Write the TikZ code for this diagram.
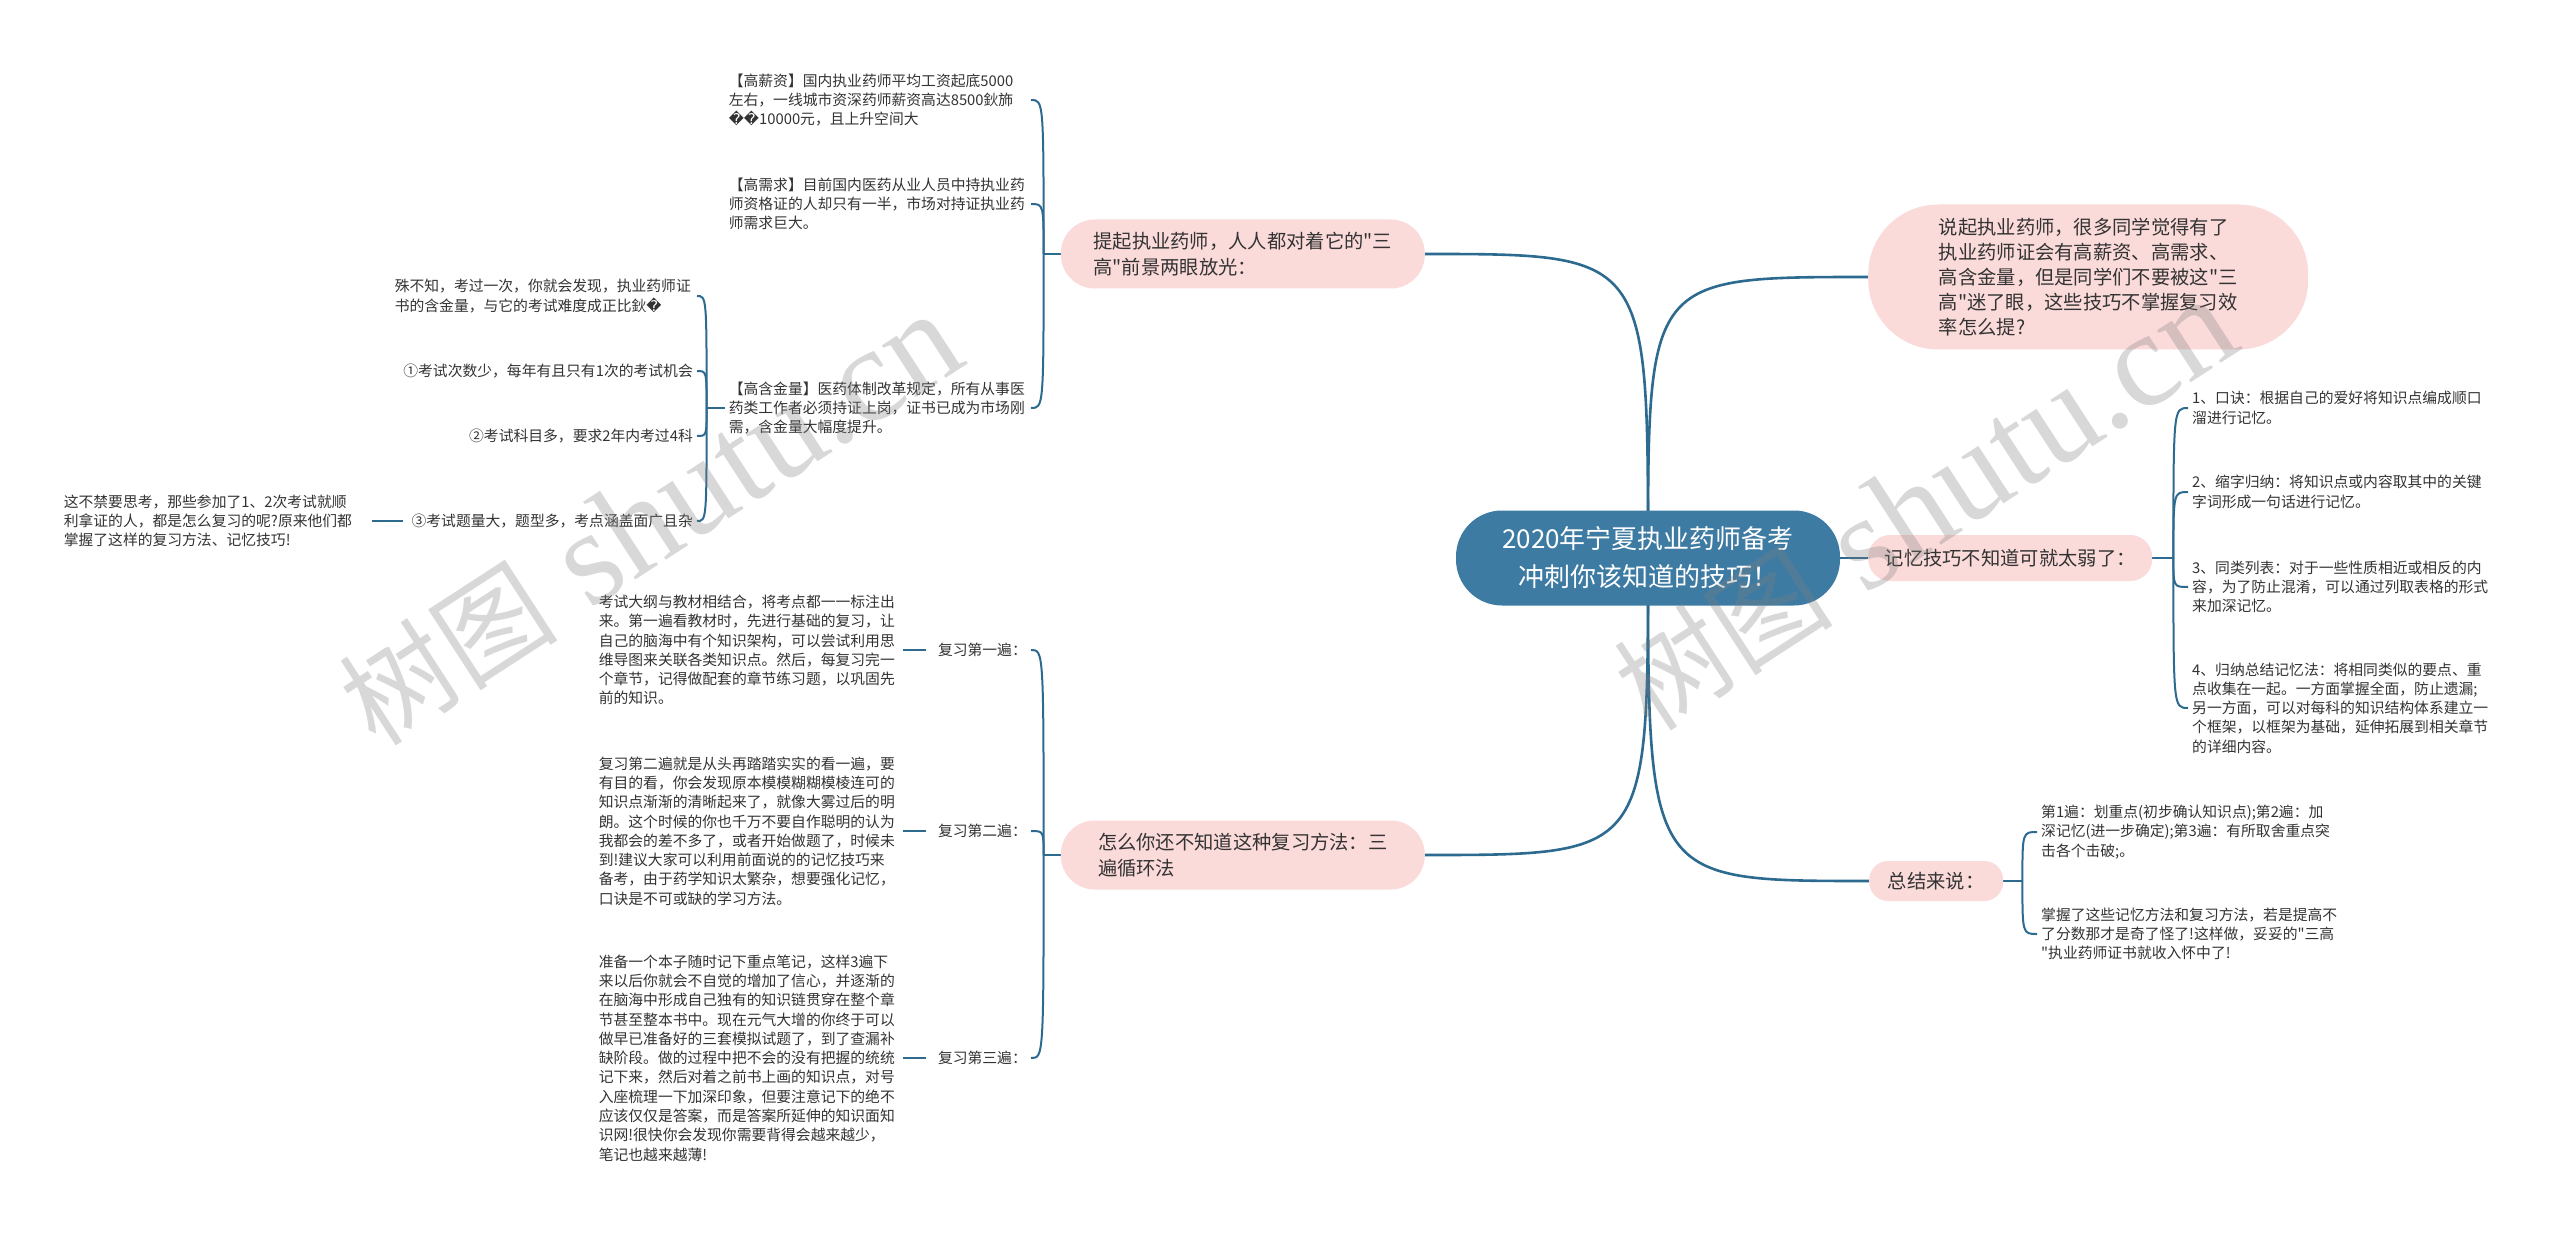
\documentclass[tikz,border=0pt]{standalone}
\usepackage{fontspec}
\setmainfont{Noto Sans CJK SC}[Ligatures=TeXOff]
\newfontfamily\dv{DejaVu Sans}
\newfontfamily\wmserif{Liberation Serif}
\newfontfamily\wmcjk{Noto Sans CJK SC}
\definecolor{rootblue}{HTML}{3E7BA3}
\definecolor{pinkbox}{HTML}{FBDADA}
\definecolor{linec}{HTML}{2D6A8F}
\definecolor{txt}{HTML}{333333}
\pgfdeclarelayer{bg}
\pgfsetlayers{bg,main}
\newcommand{\rc}{{\dv ^^^^fffd}}
\begin{document}
\begin{tikzpicture}[x=1pt,y=-1pt,
  rootnode/.style={rectangle, rounded corners=46pt, fill=rootblue, text=white, font=\fontsize{26}{38}\selectfont, align=center, inner sep=0pt, minimum width=384pt, minimum height=95pt},
  branch/.style={rectangle, fill=pinkbox, text=txt, font=\fontsize{19.3}{26}\selectfont, align=left, inner sep=0pt},
  leaf/.style={text=txt, font=\fontsize{14.8}{19.3}\selectfont, align=left, inner xsep=4pt, inner ysep=2pt},
  wide/.style={leaf, text width=298pt},
  conn/.style={draw=linec, line width=2pt},
  mainconn/.style={draw=linec, line width=2.6pt},
  wm/.style={text=gray, opacity=0.3, font=\wmserif\fontsize{135}{135}\selectfont, inner sep=0pt}
]
\useasboundingbox (0,0) rectangle (2560,1233);

% root and branches
\node[rootnode] (root) at (1648,558) {2020年宁夏执业药师备考\\冲刺你该知道的技巧！};
\node[branch, anchor=west, minimum width=440pt, minimum height=145pt, rounded corners=70pt, font=\fontsize{19.3}{25}\selectfont] (r1) at (1868,277) {说起执业药师，很多同学觉得有了\\执业药师证会有高薪资、高需求、\\高含金量，但是同学们不要被这"三\\高"迷了眼，这些技巧不掌握复习效\\率怎么提?};
\node[branch, anchor=west, minimum width=284pt, minimum height=46pt, rounded corners=22pt] (r2) at (1868,558) {记忆技巧不知道可就太弱了：};
\node[branch, anchor=west, minimum width=134pt, minimum height=40pt, rounded corners=19pt] (r3) at (1869,881) {总结来说：};
\node[branch, anchor=east, minimum width=364pt, minimum height=69pt, rounded corners=34pt] (l1) at (1425,254) {提起执业药师，人人都对着它的"三\\高"前景两眼放光：};
\node[branch, anchor=east, minimum width=364pt, minimum height=69pt, rounded corners=34pt] (l2) at (1425,855) {怎么你还不知道这种复习方法：三\\遍循环法};

% left branch 1 leaves
\node[wide, anchor=east] (a1) at (1031,100) {【高薪资】国内执业药师平均工资起底5000\\左右，一线城市资深药师薪资高达8500鈥斾\\\rc\rc10000元，且上升空间大};
\node[wide, anchor=east] (a2) at (1031,204) {【高需求】目前国内医药从业人员中持执业药\\师资格证的人却只有一半，市场对持证执业药\\师需求巨大。};
\node[wide, anchor=east] (a3) at (1031,408) {【高含金量】医药体制改革规定，所有从事医\\药类工作者必须持证上岗，证书已成为市场刚\\需，含金量大幅度提升。};
\node[wide, anchor=east] (b1) at (697,296) {殊不知，考过一次，你就会发现，执业药师证\\书的含金量，与它的考试难度成正比鈥\rc};
\node[leaf, anchor=east] (b2) at (697,371) {①考试次数少，每年有且只有1次的考试机会};
\node[leaf, anchor=east] (b3) at (697,436) {②考试科目多，要求2年内考过4科};
\node[leaf, anchor=east] (b4) at (697,521) {③考试题量大，题型多，考点涵盖面广且杂};
\node[wide, anchor=east] (c1) at (366,521) {这不禁要思考，那些参加了1、2次考试就顺\\利拿证的人，都是怎么复习的呢?原来他们都\\掌握了这样的复习方法、记忆技巧!};

% left branch 2 leaves
\node[leaf, anchor=east] (d1) at (1031,650) {复习第一遍：};
\node[leaf, anchor=east] (d2) at (1031,831) {复习第二遍：};
\node[leaf, anchor=east] (d3) at (1031,1058) {复习第三遍：};
\node[wide, anchor=east] (e1) at (901,650) {考试大纲与教材相结合，将考点都一一标注出\\来。第一遍看教材时，先进行基础的复习，让\\自己的脑海中有个知识架构，可以尝试利用思\\维导图来关联各类知识点。然后，每复习完一\\个章节，记得做配套的章节练习题，以巩固先\\前的知识。};
\node[wide, anchor=east] (e2) at (901,831) {复习第二遍就是从头再踏踏实实的看一遍，要\\有目的看，你会发现原本模模糊糊模棱连可的\\知识点渐渐的清晰起来了，就像大雾过后的明\\朗。这个时候的你也千万不要自作聪明的认为\\我都会的差不多了，或者开始做题了，时候未\\到!建议大家可以利用前面说的的记忆技巧来\\备考，由于药学知识太繁杂，想要强化记忆，\\口诀是不可或缺的学习方法。};
\node[wide, anchor=east] (e3) at (901,1058) {准备一个本子随时记下重点笔记，这样3遍下\\来以后你就会不自觉的增加了信心，并逐渐的\\在脑海中形成自己独有的知识链贯穿在整个章\\节甚至整本书中。现在元气大增的你终于可以\\做早已准备好的三套模拟试题了，到了查漏补\\缺阶段。做的过程中把不会的没有把握的统统\\记下来，然后对着之前书上画的知识点，对号\\入座梳理一下加深印象，但要注意记下的绝不\\应该仅仅是答案，而是答案所延伸的知识面知\\识网!很快你会发现你需要背得会越来越少，\\笔记也越来越薄!};

% right branch leaves
\node[wide, anchor=west] (f1) at (2188,408) {1、口诀：根据自己的爱好将知识点编成顺口\\溜进行记忆。};
\node[wide, anchor=west] (f2) at (2188,492) {2、缩字归纳：将知识点或内容取其中的关键\\字词形成一句话进行记忆。};
\node[wide, anchor=west] (f3) at (2188,587) {3、同类列表：对于一些性质相近或相反的内\\容，为了防止混淆，可以通过列取表格的形式\\来加深记忆。};
\node[wide, anchor=west] (f4) at (2188,708) {4、归纳总结记忆法：将相同类似的要点、重\\点收集在一起。一方面掌握全面，防止遗漏;\\另一方面，可以对每科的知识结构体系建立一\\个框架，以框架为基础，延伸拓展到相关章节\\的详细内容。};
\node[wide, anchor=west] (g1) at (2037,832) {第1遍：划重点(初步确认知识点);第2遍：加\\深记忆(进一步确定);第3遍：有所取舍重点突\\击各个击破;。};
\node[wide, anchor=west] (g2) at (2037,934) {掌握了这些记忆方法和复习方法，若是提高不\\了分数那才是奇了怪了!这样做，妥妥的"三高\\"执业药师证书就收入怀中了!};

% junctions
\coordinate (jl1) at ([xshift=-17pt]l1.west);
\coordinate (jl2) at ([xshift=-17pt]l2.west);
\coordinate (ja3) at ([xshift=-18pt]a3.west);
\coordinate (jr2) at ([xshift=21pt]r2.east);
\coordinate (jr3) at ([xshift=19pt]r3.east);

\begin{pgfonlayer}{bg}
\fill[white] (0,0) rectangle (2560,1233);
\draw[mainconn] (root.center) .. controls (root.center |- r1.west) .. (r1.west);
\draw[mainconn] (root.center) .. controls (root.center |- l1.east) .. (l1.east);
\draw[mainconn] (root.east) -- (r2.west);
\draw[mainconn] (root.center) .. controls (root.center |- r3.west) .. (r3.west);
\draw[mainconn] (root.center) .. controls (root.center |- l2.east) .. (l2.east);
\draw[conn] (l1.west) -- (jl1);
\foreach \n in {a1,a2,a3} \draw[conn] (jl1) .. controls (jl1 |- \n.east) .. (\n.east);
\draw[conn] (a3.west) -- (ja3);
\foreach \n in {b1,b2,b3,b4} \draw[conn] (ja3) .. controls (ja3 |- \n.east) .. (\n.east);
\draw[conn, shorten <=4pt, shorten >=6pt] (b4.west) -- (c1.east);
\draw[conn] (l2.west) -- (jl2);
\foreach \n in {d1,d2,d3} \draw[conn] (jl2) .. controls (jl2 |- \n.east) .. (\n.east);
\draw[conn, shorten <=8pt, shorten >=2pt] (d1.west) -- (e1.east);
\draw[conn, shorten <=8pt, shorten >=2pt] (d2.west) -- (e2.east);
\draw[conn, shorten <=8pt, shorten >=2pt] (d3.west) -- (e3.east);
\draw[conn] (r2.east) -- (jr2);
\foreach \n in {f1,f2,f3,f4} \draw[conn] (jr2) .. controls (jr2 |- \n.west) .. (\n.west);
\draw[conn] (r3.east) -- (jr3);
\foreach \n in {g1,g2} \draw[conn] (jr3) .. controls (jr3 |- \n.west) .. (\n.west);
\end{pgfonlayer}

% watermarks
\node[wm, rotate=33] (wm1) at (650,520) {{\wmcjk\fontsize{110}{110}\selectfont 树图} shutu.cn};
\node[wm, rotate=33] (wm2) at (1925,505) {{\wmcjk\fontsize{110}{110}\selectfont 树图} shutu.cn};
\end{tikzpicture}
\end{document}
